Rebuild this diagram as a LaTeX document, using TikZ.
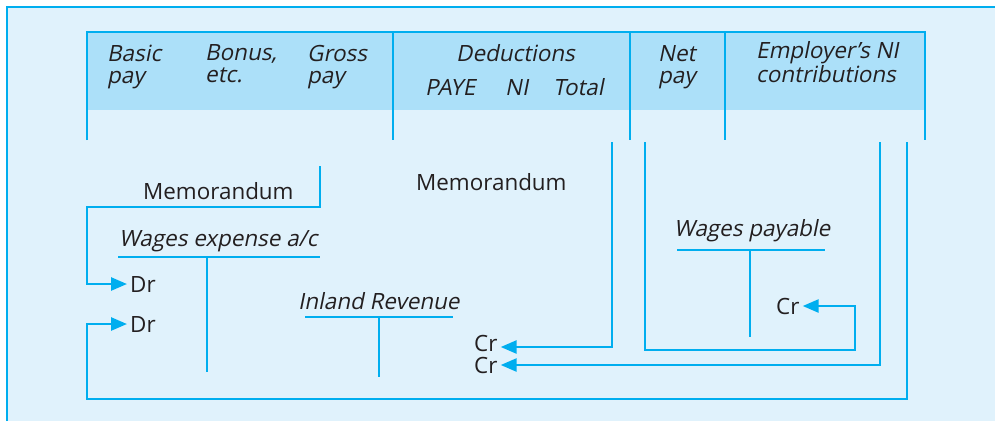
\documentclass[tikz,border=0pt]{standalone}
\usepackage{fontspec}
\setmainfont{Open Sans}
\newfontfamily\slantsans[FakeSlant=0.2]{Open Sans}
\usetikzlibrary{
    arrows.meta,
    positioning
}
\definecolor{panelblue}{RGB}{224,242,252}
\definecolor{headblue}{RGB}{172,224,249}
\definecolor{linecyan}{RGB}{0,174,239}
\definecolor{inkgrey}{RGB}{35,31,32}

\begin{document}
\begin{tikzpicture}[
    x=1pt, y=-1pt,
    rule/.style   = {draw=linecyan, line width=2.6pt},
    flow/.style   = {rule, -{Triangle[length=16pt, width=13pt]}},
    head/.style   = {anchor=base west, inner sep=0pt, align=left, text=inkgrey,
                     font=\fontsize{22.4}{21.5}\slantsans},
    plain/.style  = {anchor=base west, inner sep=0pt, text=inkgrey,
                     font=\fontsize{22.4}{22}\selectfont},
    title/.style  = {plain, font=\fontsize{22.4}{22}\slantsans},
    side/.style   = {plain, inner sep=3pt},
]
    \useasboundingbox (0,0) rectangle (995,421);

    %Panel
    \fill[panelblue] (7,7) rectangle (995,421);
    \draw[linecyan, line width=1.2pt] (7,421) -- (7,7) -- (995,7);

    %Header
    \fill[headblue] (87,32) rectangle (925,110);
    \draw[rule] (87,140) -- (87,32) -- (925,32) -- (925,140);
    \draw[rule] (393,32) -- (393,140);
    \draw[rule] (630,32) -- (630,140);
    \draw[rule] (725,32) -- (725,140);

    \node[head] (basicpay)     at (107,83) {Basic\\pay};
    \node[head] (bonus)        at (205,82) {Bonus,\\etc.};
    \node[head] (grosspay)     at (307,83) {Gross\\pay};
    \node[head] (deductions)   at (456,61) {Deductions};
    \node[head] (paye)         at (425,95) {PAYE};
    \node[head] (ni)           at (505,95) {NI};
    \node[head] (total)        at (553,95) {Total};
    \node[head] (netpay)       at (658,83) {Net\\pay};
    \node[head] (employerni)   at (756,82) {Employer’s NI\\contributions};

    %Nodes
    \node[plain] (memoleft)    at (143,199) {Memorandum};
    \node[plain] (memomid)     at (416,190) {Memorandum};
    \node[title] (wagesexp)    at (119,246) {Wages expense a/c};
    \node[title] (inlandrev)   at (298,309) {Inland Revenue};
    \node[title] (wagespay)    at (674,236) {Wages payable};
    \node[side]  (drbasic)     at (127,292) {Dr};
    \node[side]  (dremployer)  at (127,332) {Dr};
    \node[side]  (crtotal)     at (471,351) {Cr};
    \node[side]  (cremployer)  at (471,373) {Cr};
    \node[side]  (crnet)       at (773,314) {Cr};

    %T accounts
    \draw[rule] (118,257) -- (320,257);
    \draw[rule] (207,257) -- (207,372);
    \draw[rule] (305,317) -- (453,317);
    \draw[rule] (379,317) -- (379,377);
    \draw[rule] (677,250) -- (825,250);
    \draw[rule] (750,250) -- (750,337);

    %Column ends
    \coordinate (grossend)  at (320,166);
    \coordinate (totalend)  at (612,142);
    \coordinate (netend)    at (645,142);
    \coordinate (emponeend) at (880,142);
    \coordinate (emptwoend) at (907,142);

    %Lines
    \draw[flow] (grossend) |- (87,207) |- (drbasic.west);
    \draw[flow] (emptwoend) |- (87,399) |- (dremployer.west);
    \draw[flow] (totalend) |- ([yshift=-4pt]crtotal.east);
    \draw[flow] (emponeend) |- (cremployer.east);
    \draw[flow] (netend) |- (855,350) |- (crnet.east);
\end{tikzpicture}
\end{document}
